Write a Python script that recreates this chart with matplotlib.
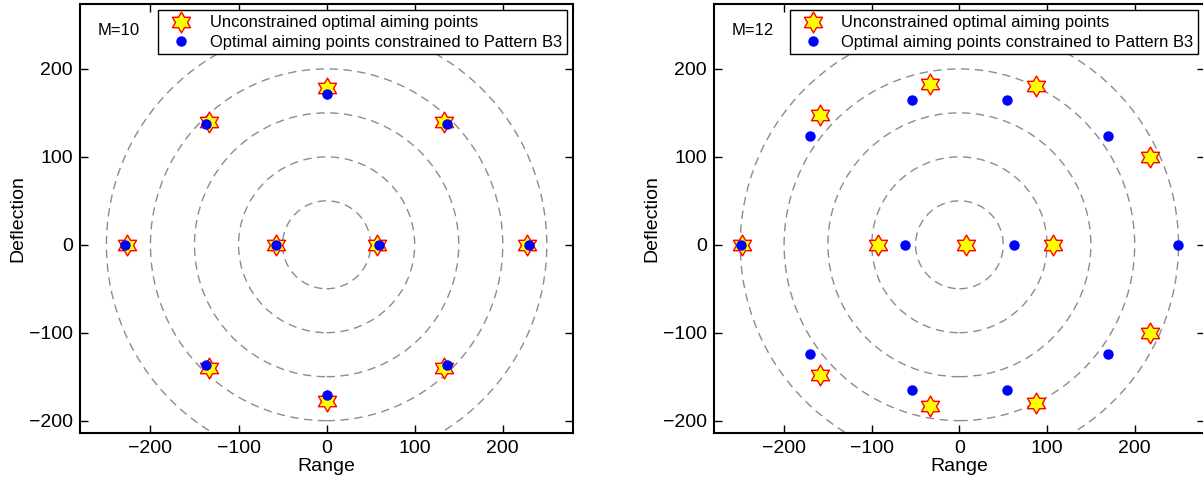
import matplotlib
matplotlib.use("Agg")
import matplotlib.pyplot as plt
from matplotlib.patches import Circle
from matplotlib.path import Path

plt.rcParams['font.family'] = ['Liberation Sans', 'DejaVu Sans']

# ring radii of the dashed guide circles
radii = [50, 100, 150, 200, 250]

# M=10 panel
m10_star_x = [0, -133, 133, -227, -57, 57, 228, -133, 133, 0]
m10_star_y = [178, 140, 140, 0, 0, 0, 0, -140, -140, -178]
m10_dot_x = [0, -137, 137, -229, -58, 59, 230, -137, 137, 0]
m10_dot_y = [171, 137, 137, 0, 0, 0, 0, -137, -137, -171]

# M=12 panel
m12_star_x = [-33, 87, -159, 217, -248, -93, 7, 107, 217, -159, -33, 87]
m12_star_y = [183, 180, 148, 100, 0, 0, 0, 0, -100, -148, -183, -180]
m12_dot_x = [-54, 54, -170, 170, -249, -62, 62, 249, -170, 170, -54, 54]
m12_dot_y = [165, 165, 124, 124, 0, 0, 0, 0, -124, -124, -165, -165]

panels = [("M=10", m10_star_x, m10_star_y, m10_dot_x, m10_dot_y),
          ("M=12", m12_star_x, m12_star_y, m12_dot_x, m12_dot_y)]

# matlab style hexagram
hexagram = Path.unit_regular_star(6, 0.577)

fig = plt.figure(figsize=(12.03, 4.8), dpi=100)
axes_pos = [[0.0665, 0.098, 0.41, 0.894],
            [0.5935, 0.098, 0.408, 0.894]]

for pos, (label, sx, sy, dx, dy) in zip(axes_pos, panels):
    ax = fig.add_axes(pos)
    for r in radii:
        ax.add_patch(Circle((0, 0), r, fill=False, ls=(0, (6, 4)),
                            ec='#8c8c8c', lw=1.0, zorder=1))
    ax.plot(sx, sy, ls='none', marker=hexagram, ms=15, mfc='yellow',
            mec='red', mew=1.0, zorder=3,
            label='Unconstrained optimal aiming points')
    ax.plot(dx, dy, ls='none', marker='o', ms=6.5, mfc='blue', mec='blue',
            zorder=4, label='Optimal aiming points constrained to Pattern B3')
    ax.set_xlim(-280, 280)
    ax.set_ylim(-214, 274)
    ax.set_xticks([-200, -100, 0, 100, 200])
    ax.set_yticks([-200, -100, 0, 100, 200])
    ax.set_xticklabels(['\u2212200', '\u2212100', '0', '100', '200'])
    ax.set_yticklabels(['\u2212200', '\u2212100', '0', '100', '200'])
    ax.tick_params(direction='in', top=True, right=True, length=6,
                   width=1, labelsize=14, pad=5)
    for s in ax.spines.values():
        s.set_linewidth(1.5)
    ax.set_xlabel('Range', fontsize=14, labelpad=1)
    ax.set_ylabel('Deflection', fontsize=14, labelpad=2)
    ax.text(0.035, 0.955, label, transform=ax.transAxes, fontsize=12,
            va='top', ha='left')
    leg = ax.legend(loc='upper right', fontsize=11.9, frameon=True,
                    fancybox=False, borderaxespad=0.4, handletextpad=0.6,
                    borderpad=0.3, labelspacing=0.25, handlelength=2.2,
                    framealpha=1)
    leg.get_frame().set_edgecolor('black')
    leg.get_frame().set_linewidth(1.0)

fig.savefig('out.png', dpi=100)
